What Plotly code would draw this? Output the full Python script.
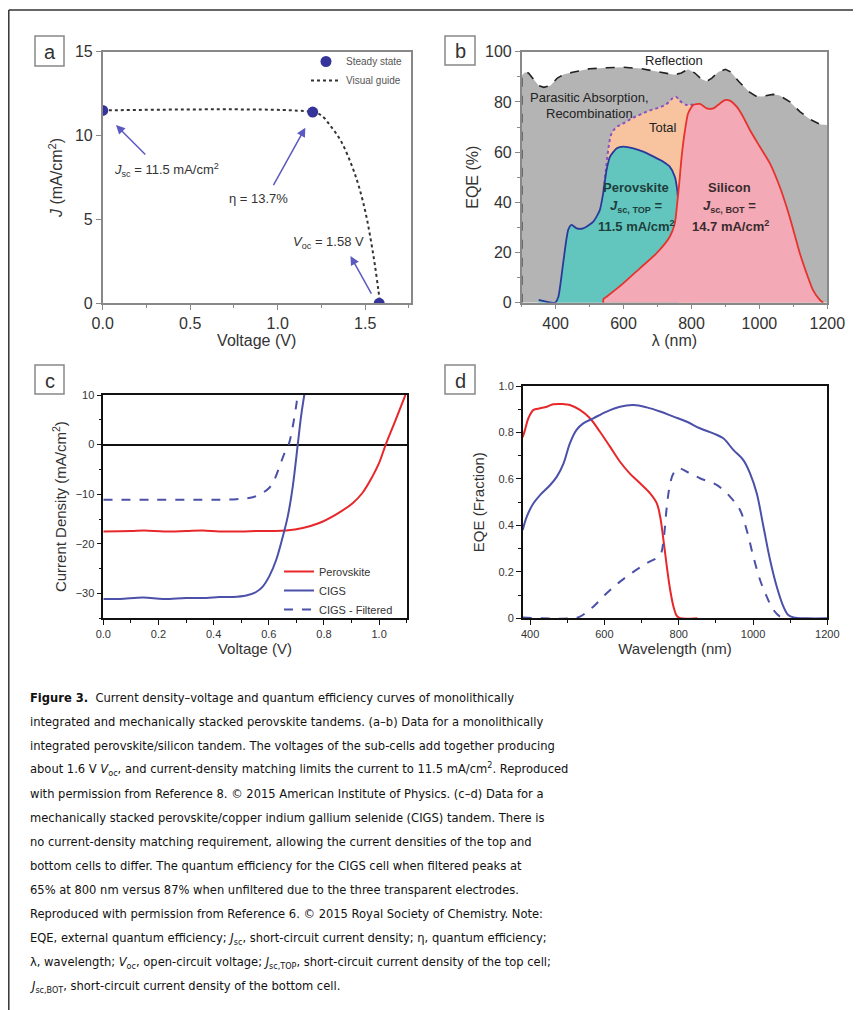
import plotly.graph_objects as go

# The page body adds an 8px margin, so the figure is 8px smaller and all
# reference-pixel positions are shifted by 8px.
PAGE_W, PAGE_H = 861, 1010
OFF = 8
W, H = PAGE_W - OFF, PAGE_H - OFF
def X(p): return (p - OFF) / W
def Y(p): return 1 - (p - OFF) / H

FONT = "Liberation Sans, Arial, Helvetica, sans-serif"
CAPFONT = "DejaVu Sans Condensed, Liberation Sans Narrow, sans-serif"

# ---------------- Panel a data ----------------
a_volt = [0.0, 1.20, 1.58]
a_curr = [11.5, 11.4, 0.0]
a_guide_volt = [0.0, 1.20, 1.25, 1.30, 1.36, 1.42, 1.46, 1.50, 1.53, 1.555, 1.575, 1.585]
a_guide_curr = [11.5, 11.4, 11.2, 10.6, 9.7, 8.3, 7.1, 5.5, 3.9, 2.3, 0.8, 0.0]

# ---------------- Panel b data ----------------
refl_wl = [300, 300, 310, 320, 335, 350, 365, 385, 405, 425, 450, 500, 550, 600, 650, 700, 750, 770,
           790, 810, 830, 845, 860, 880, 900, 915, 940, 970, 990, 1010, 1040, 1060, 1090, 1120, 1150, 1180, 1200]
refl_eqe = [0, 90.5, 91.8, 91.5, 89.0, 86.5, 85.8, 86.5, 89.5, 91.0, 91.8, 93.2, 93.6, 93.8, 93.3, 92.0, 90.8, 91.5,
            93.0, 91.5, 89.0, 88.2, 89.5, 92.0, 93.0, 92.0, 88.0, 84.0, 82.3, 82.2, 83.0, 82.5, 80.0, 76.0, 73.0, 71.0, 70.8]
total_wl = [541, 548, 556, 565, 580, 600, 625, 650, 675, 700, 725, 745, 755, 765, 785, 805]
total_eqe = [45, 53, 62, 67.5, 70, 71.5, 73.5, 75, 76.5, 77.5, 79, 81.5, 82, 80.5, 78.8, 79]
perov_wl = [350, 398, 408, 422, 437, 447, 462, 481, 511, 530, 540, 550, 560, 580, 599, 629, 658, 688, 717, 736, 751, 758, 761]
perov_eqe = [1.1, 0.0, 2.4, 15.7, 29.0, 31.0, 29.6, 29.6, 32.3, 36.9, 43.6, 52.9, 58.2, 61.5, 62.2, 61.5, 60.2, 58.2, 56.2, 54.2, 50.2, 44.9, 39.6]
si_wl = [540, 541, 550, 599, 648, 697, 736, 751, 758, 764, 771, 781, 790, 805, 825, 845, 864, 884, 898, 913,
         933, 952, 972, 1001, 1031, 1060, 1080, 1100, 1119, 1139, 1158, 1178, 1188]
si_eqe = [0, 1.5, 2.4, 7.7, 13.7, 19.7, 26.3, 31.6, 39.6, 47.5, 58.2, 68.8, 75.4, 78.8, 79.2, 77.4, 77.4, 79.4, 80.7, 80.5,
          78.1, 74.1, 68.8, 62.2, 55.5, 46.2, 38.2, 29.0, 19.7, 11.7, 5.0, 1.1, 0]

# ---------------- Panel c data ----------------
c_perov_v = [0.0, 0.10, 0.15, 0.22, 0.30, 0.36, 0.42, 0.50, 0.56, 0.614, 0.663, 0.723, 0.783, 0.843, 0.904, 0.94, 0.976, 1.0, 1.024, 1.06, 1.096]
c_perov_j = [-17.5, -17.4, -17.3, -17.5, -17.4, -17.3, -17.5, -17.5, -17.4, -17.4, -17.3, -16.8, -15.8, -14.1, -11.8, -9.7, -6.4, -3.7, 0.0, 5.0, 10.1]
c_cigs_v = [0.0, 0.06, 0.145, 0.217, 0.30, 0.373, 0.42, 0.47, 0.518, 0.554, 0.578, 0.602, 0.627, 0.651, 0.669, 0.687, 0.705, 0.717, 0.729]
c_cigs_j = [-31.1, -31.1, -30.8, -31.1, -30.9, -30.9, -30.7, -30.7, -30.4, -29.7, -28.6, -26.5, -23.2, -18.5, -14.4, -8.4, 0.0, 5.7, 10.1]
c_filt_v = [0.0, 0.18, 0.361, 0.482, 0.542, 0.578, 0.602, 0.62, 0.639, 0.657, 0.672, 0.687, 0.699, 0.705]
c_filt_j = [-11.1, -11.1, -11.1, -11.0, -10.6, -9.7, -8.7, -7.1, -4.4, -1.7, 0.0, 3.7, 7.7, 10.1]

# ---------------- Panel d data ----------------
d_perov_wl = [380, 386, 395, 409, 427, 445, 462, 490, 507, 534, 561, 588, 615, 642, 668, 696, 723, 741, 750, 759, 768, 777, 786, 795, 804, 850]
d_perov_eqe = [0.78, 0.81, 0.86, 0.897, 0.904, 0.911, 0.921, 0.922, 0.918, 0.897, 0.861, 0.803, 0.739, 0.674, 0.624, 0.581, 0.538, 0.495, 0.438, 0.337, 0.222, 0.122, 0.05, 0.01, 0.0, 0.0]
d_cigs_wl = [380, 391, 409, 427, 454, 472, 490, 507, 525, 543, 570, 606, 642, 678, 714, 750, 786, 822, 857, 893, 920, 947, 974, 992, 1010, 1028, 1046, 1064, 1082, 1095, 1109, 1145, 1200]
d_cigs_eqe = [0.38, 0.438, 0.495, 0.531, 0.574, 0.61, 0.667, 0.753, 0.811, 0.839, 0.861, 0.89, 0.911, 0.918, 0.908, 0.89, 0.868, 0.846, 0.818, 0.796, 0.775, 0.725, 0.681, 0.624, 0.538, 0.395, 0.251, 0.136, 0.05, 0.014, 0.004, 0.0, 0.0]
d_filt_wl = [380, 516, 534, 570, 606, 642, 678, 714, 750, 759, 768, 777, 786, 799, 822, 857, 902, 938, 965, 983, 1001, 1019, 1037, 1055, 1073, 1091]
d_filt_eqe = [0.003, 0.0, 0.007, 0.05, 0.108, 0.158, 0.2, 0.237, 0.273, 0.337, 0.481, 0.581, 0.624, 0.646, 0.631, 0.603, 0.574, 0.524, 0.466, 0.38, 0.265, 0.165, 0.093, 0.036, 0.007, 0.0]
d_ytickvals = [0, 0.2, 0.4, 0.6, 0.8, 1.0]
d_yticktext = ["0", "0.2", "0.4", "0.6", "0.8", "1.0"]

caption_lines = [
    "<b>Figure 3.</b>  Current density–voltage and quantum efficiency curves of monolithically",
    "integrated and mechanically stacked perovskite tandems. (a–b) Data for a monolithically",
    "integrated perovskite/silicon tandem. The voltages of the sub-cells add together producing",
    "about 1.6 V <i>V</i><sub>oc</sub>, and current-density matching limits the current to 11.5 mA/cm<sup>2</sup>. Reproduced",
    "with permission from Reference 8. © 2015 American Institute of Physics. (c–d) Data for a",
    "mechanically stacked perovskite/copper indium gallium selenide (CIGS) tandem. There is",
    "no current-density matching requirement, allowing the current densities of the top and",
    "bottom cells to differ. The quantum efficiency for the CIGS cell when filtered peaks at",
    "65% at 800 nm versus 87% when unfiltered due to the three transparent electrodes.",
    "Reproduced with permission from Reference 6. © 2015 Royal Society of Chemistry. Note:",
    "EQE, external quantum efficiency; <i>J</i><sub>sc</sub>, short-circuit current density; η, quantum efficiency;",
    "λ, wavelength; <i>V</i><sub>oc</sub>, open-circuit voltage; <i>J</i><sub>sc,TOP</sub>, short-circuit current density of the top cell;",
    "<i>J</i><sub>sc,BOT</sub>, short-circuit current density of the bottom cell.",
]

fig = go.Figure()

# ---- a ----
fig.add_trace(go.Scatter(x=a_guide_volt, y=a_guide_curr, mode="lines", name="Visual guide",
                         line=dict(color="#333333", dash="dot", width=2, shape="spline"),
                         xaxis="x", yaxis="y", legend="legend", legendrank=2))
fig.add_trace(go.Scatter(x=a_volt, y=a_curr, mode="markers", name="Steady state",
                         marker=dict(color="#34349a", size=11),
                         xaxis="x", yaxis="y", legend="legend", legendrank=1))

# ---- b ----
fig.add_trace(go.Scatter(x=refl_wl, y=refl_eqe, mode="lines", fill="tozeroy", fillcolor="#b4b4b4",
                         line=dict(color="#222222", dash="dash", width=1.6), showlegend=False, xaxis="x2", yaxis="y2"))
fig.add_trace(go.Scatter(x=total_wl, y=total_eqe, mode="lines", fill="tozeroy", fillcolor="#f8c4a0",
                         line=dict(color="#8a50c0", dash="dot", width=2, shape="spline"), showlegend=False, xaxis="x2", yaxis="y2"))
fig.add_trace(go.Scatter(x=perov_wl, y=perov_eqe, mode="lines", fill="tozeroy", fillcolor="#62c6be",
                         line=dict(color="#2b3a9a", width=1.8, shape="spline", smoothing=0.6), showlegend=False, xaxis="x2", yaxis="y2"))
fig.add_trace(go.Scatter(x=si_wl, y=si_eqe, mode="lines", fill="tozeroy", fillcolor="#f3aab6",
                         line=dict(color="#e8322d", width=1.8, shape="spline", smoothing=0.6), showlegend=False, xaxis="x2", yaxis="y2"))

# ---- c ----
fig.add_trace(go.Scatter(x=c_perov_v, y=c_perov_j, mode="lines", name="Perovskite",
                         line=dict(color="#e8272a", width=2, shape="spline"), xaxis="x3", yaxis="y3", legend="legend2"))
fig.add_trace(go.Scatter(x=c_cigs_v, y=c_cigs_j, mode="lines", name="CIGS",
                         line=dict(color="#4b50a8", width=2, shape="spline"), xaxis="x3", yaxis="y3", legend="legend2"))
fig.add_trace(go.Scatter(x=c_filt_v, y=c_filt_j, mode="lines", name="CIGS - Filtered",
                         line=dict(color="#4b50a8", width=2, dash="dash", shape="spline"), xaxis="x3", yaxis="y3", legend="legend2"))

# ---- d ----
fig.add_trace(go.Scatter(x=d_perov_wl, y=d_perov_eqe, mode="lines", showlegend=False,
                         line=dict(color="#e8272a", width=2, shape="spline"), xaxis="x4", yaxis="y4"))
fig.add_trace(go.Scatter(x=d_cigs_wl, y=d_cigs_eqe, mode="lines", showlegend=False,
                         line=dict(color="#4b50a8", width=2, shape="spline"), xaxis="x4", yaxis="y4"))
fig.add_trace(go.Scatter(x=d_filt_wl, y=d_filt_eqe, mode="lines", showlegend=False,
                         line=dict(color="#4b50a8", width=2, dash="dash", shape="spline"), xaxis="x4", yaxis="y4"))


def axis(domain, rng, anchor, linecolor, tickfont, title, titlesize, standoff, **kw):
    d = dict(domain=domain, range=rng, anchor=anchor, showgrid=False, zeroline=False,
             showline=True, mirror=True, linecolor=linecolor, linewidth=1.5,
             ticks="outside", ticklen=5, tickwidth=1.2, tickcolor=linecolor,
             tickfont=dict(family=FONT, size=tickfont, color="#333333"),
             title=dict(text=title, font=dict(family=FONT, size=titlesize, color="#333333"), standoff=standoff),
             automargin=False)
    d.update(kw)
    return d

layout = dict(
    width=W, height=H, margin=dict(l=0, r=0, t=0, b=0),
    paper_bgcolor="white", plot_bgcolor="white",
    font=dict(family=FONT, color="#333333"),
    xaxis=axis([X(102.7), X(410.7)], [0, 1.76], "y", "#888888", 16, "Voltage (V)", 16, 3,
               dtick=0.5, tickformat=".1f", minor=dict(dtick=0.25, ticks="outside", ticklen=3, tickcolor="#888888")),
    yaxis=axis([Y(303.3), Y(51.7)], [0, 15], "x", "#888888", 16, "<i>J</i> (mA/cm<sup>2</sup>)", 16, 8,
               dtick=5),
    xaxis2=axis([X(521.7), X(827.3)], [300, 1200], "y2", "#888888", 16, "λ (nm)", 16, 3,
                dtick=200, minor=dict(dtick=100, ticks="outside", ticklen=3, tickcolor="#888888")),
    yaxis2=axis([Y(302.7), Y(51.7)], [0, 100], "x2", "#888888", 16, "EQE (%)", 16, 2,
                dtick=20, minor=dict(dtick=10, ticks="outside", ticklen=3, tickcolor="#888888")),
    xaxis3=axis([X(103.3), X(406.7)], [0, 1.1], "y3", "#111111", 11, "Voltage (V)", 15, 3,
                dtick=0.2, tickformat=".1f", minor=dict(dtick=0.1, ticks="outside", ticklen=3, tickcolor="#111111")),
    yaxis3=axis([Y(618.3), Y(395)], [-35, 10], "x3", "#111111", 11, "Current Density (mA/cm<sup>2</sup>)", 15, 5,
                dtick=10, zeroline=True, zerolinecolor="#111111", zerolinewidth=1.5,
                minor=dict(dtick=5, ticks="outside", ticklen=3, tickcolor="#111111")),
    xaxis4=axis([X(522.7), X(827.3)], [380, 1200], "y4", "#111111", 11, "Wavelength (nm)", 15, 2,
                tick0=400, dtick=200, minor=dict(dtick=100, ticks="outside", ticklen=3, tickcolor="#111111")),
    yaxis4=axis([Y(618.3), Y(386)], [0, 1.0], "x4", "#111111", 11, "EQE (Fraction)", 15, 10,
                tickvals=d_ytickvals, ticktext=d_yticktext,
                minor=dict(dtick=0.1, ticks="outside", ticklen=3, tickcolor="#111111")),
    legend=dict(x=X(306), y=Y(47), xanchor="left", yanchor="top", bgcolor="rgba(0,0,0,0)",
                font=dict(family=FONT, size=10, color="#555555"), tracegroupgap=0, itemwidth=30),
    legend2=dict(x=X(279), y=Y(557), xanchor="left", yanchor="top", bgcolor="rgba(0,0,0,0)",
                 font=dict(family=FONT, size=11, color="#333333"), tracegroupgap=0, itemwidth=30),
)
fig.update_layout(**layout)

shapes = []
# outer frame (left and top edges)
shapes.append(dict(type="line", xref="paper", yref="paper", x0=X(8.8), x1=X(8.8), y0=Y(10), y1=0,
                   line=dict(color="#333333", width=1.5)))
shapes.append(dict(type="line", xref="paper", yref="paper", x0=X(8.8), x1=1, y0=Y(10), y1=Y(10),
                   line=dict(color="#333333", width=1.5)))
# panel label boxes
boxes = {"a": (35, 36, 64, 66), "b": (445, 36, 475, 65), "c": (35, 365, 64, 394), "d": (445, 365, 475, 394)}
annotations = []
for lab, (x0, y0, x1, y1) in boxes.items():
    shapes.append(dict(type="rect", xref="paper", yref="paper", x0=X(x0), x1=X(x1), y0=Y(y1), y1=Y(y0),
                       line=dict(color="#888888", width=1.5), fillcolor="white"))
    annotations.append(dict(xref="paper", yref="paper", x=X((x0 + x1) / 2), y=Y((y0 + y1) / 2 + 1),
                            text=lab, showarrow=False, font=dict(family=FONT, size=20, color="#333333"),
                            xanchor="center", yanchor="middle"))


def ann(px, py, text, size=13, color="#222222", xanchor="center", weight="normal", family=FONT):
    annotations.append(dict(xref="paper", yref="paper", x=X(px), y=Y(py), text=text, showarrow=False,
                            xanchor=xanchor, yanchor="middle",
                            font=dict(family=family, size=size, color=color, weight=weight)))

# panel a arrows + labels
ARROW = "#5a5ac0"
for hx, hy, tx, ty in [(0.076, 10.63, 0.252, 8.78), (1.158, 10.47, 0.971, 6.95), (1.416, 2.82, 1.54, 0.49)]:
    annotations.append(dict(xref="x", yref="y", x=hx, y=hy, axref="x", ayref="y", ax=tx, ay=ty,
                            showarrow=True, arrowhead=2, arrowsize=1.2, arrowwidth=1.5, arrowcolor=ARROW, text=""))
ann(112, 170, "<i>J</i><sub>sc</sub> = 11.5 mA/cm<sup>2</sup>", 13, "#333333", "left")
ann(227, 198, "η = 13.7%", 13, "#333333", "left")
ann(291, 243, "<i>V</i><sub>oc</sub> = 1.58 V", 13, "#333333", "left")

# panel b labels
ann(674, 60, "Reflection", 13)
ann(589, 97, "Parasitic Absorption,", 13)
ann(589, 113, "Recombination", 13)
ann(663, 127, "Total", 13)
ann(636, 188, "Perovskite", 13, "#1e3e3c", weight="bold")
ann(636, 206, "<i>J</i><sub>sc, TOP</sub> =", 13, "#1e3e3c", weight="bold")
ann(636, 226, "11.5 mA/cm<sup>2</sup>", 13, "#1e3e3c", weight="bold")
ann(729, 188, "Silicon", 13, "#3a2a2e", weight="bold")
ann(729, 206, "<i>J</i><sub>sc, BOT</sub> =", 13, "#3a2a2e", weight="bold")
ann(730, 226, "14.7 mA/cm<sup>2</sup>", 13, "#3a2a2e", weight="bold")

# caption
for i, line in enumerate(caption_lines):
    ann(28, 697 + i * 24.1, line, 12.8, "#111111", "left", family=CAPFONT)

fig.update_layout(shapes=shapes, annotations=annotations)
fig.write_html("out.html")
